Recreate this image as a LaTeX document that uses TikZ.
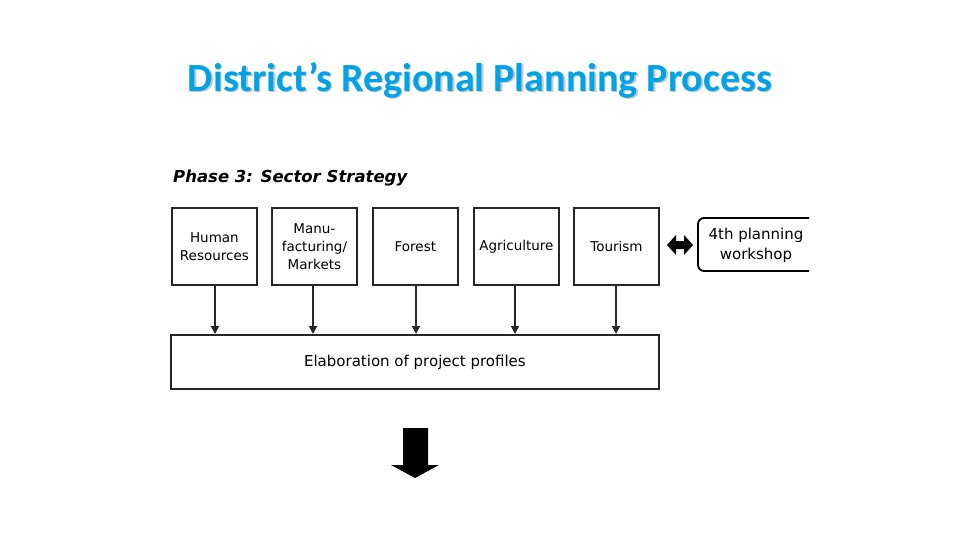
\documentclass[tikz,border=0pt]{standalone}
\usepackage{fontspec}
\setmainfont{DejaVu Sans}
\newfontfamily\titlefont{Carlito}
\usetikzlibrary{arrows.meta}
\definecolor{titleblue}{RGB}{0,162,232}
\definecolor{shadowgray}{RGB}{200,200,200}
\tikzset{
  sectorbox/.style={draw=black!85, line width=1.8pt, minimum width=85pt, minimum height=77pt, inner sep=0pt, align=center, font=\fontsize{13.5}{18}\selectfont, anchor=north west},
  feed/.style={draw=black!85, line width=1.6pt, -{Triangle[length=8pt,width=8pt]}}
}
\begin{document}
\begin{tikzpicture}[x=1pt,y=-1pt]
\useasboundingbox (0,0) rectangle (960,540);
% title
\node[text=shadowgray, font=\titlefont\bfseries\fontsize{40}{44}\selectfont] (titleshadow) at (481.5,81.5) {District’s Regional Planning Process};
\node[text=titleblue, font=\titlefont\bfseries\fontsize{40}{44}\selectfont] (title) at (480,80) {District’s Regional Planning Process};
% phase heading
\node[anchor=west, font=\bfseries\itshape\fontsize{16.5}{18}\selectfont, inner sep=0pt] (phase) at (173,178) {Phase 3: Sector Strategy};
% sector boxes
\node[sectorbox] (hr) at (171,207) {Human\\Resources};
\node[sectorbox] (mf) at (271,207) {Manu-\\facturing/\\Markets};
\node[sectorbox] (fo) at (372,207) {Forest};
\node[sectorbox] (ag) at (473,207) {Agriculture};
\node[sectorbox] (to) at (573,207) {Tourism};
% big box
\node[draw=black!85, line width=1.8pt, minimum width=488pt, minimum height=54pt, inner sep=0pt, anchor=north west, font=\fontsize{15}{18}\selectfont] (elab) at (170,334) {\raisebox{-2pt}{Elaboration of project profiles}};
% feed arrows
\foreach \n/\xx in {hr/215, mf/313, fo/416, ag/515, to/616}{
  \draw[feed] (\n.south -| \xx,0) -- (elab.north -| \xx,0);
}
% workshop box (clipped on right)
\begin{scope}
\clip (690,210) rectangle (809,280);
\draw[line width=1.8pt, rounded corners=6pt] (698,218) rectangle (830,271);
\end{scope}
\node[font=\fontsize{15}{20}\selectfont, align=center] (ws) at (756,245) {4th planning\\workshop};
% double arrow
\fill[black] (667,245) -- (676,235) -- (676,241) -- (684,241) -- (684,235) -- (693,245) -- (684,255) -- (684,249) -- (676,249) -- (676,255) -- cycle;
% block arrow down
\fill[black] (403,428) -- (428,428) -- (428,465) -- (439,465) -- (415,478) -- (391,465) -- (403,465) -- cycle;
\end{tikzpicture}
\end{document}
